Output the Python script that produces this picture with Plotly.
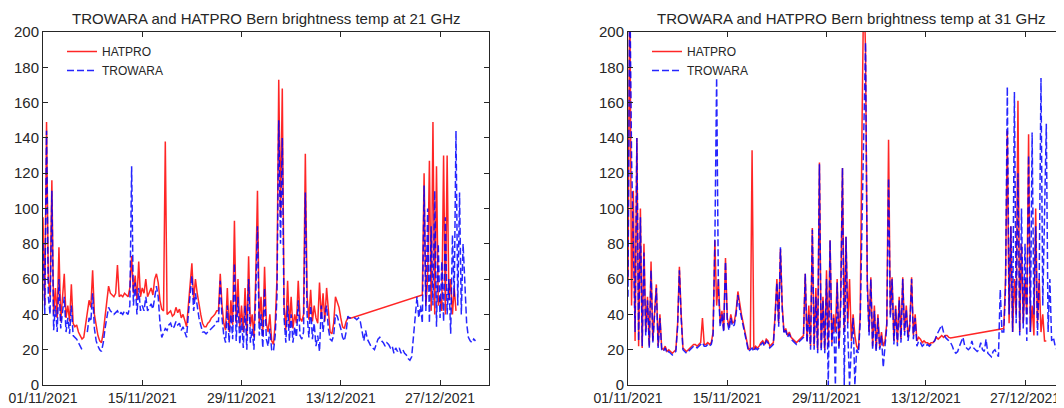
import plotly.graph_objects as go
import pandas as pd

# ---------------- data (4 samples per day, 6-hourly, from 01/11/2021 00:00) ----------------
START = "2021-11-01 00:00"
STEP = "6h"

hatpro_21 = [
    95, 45, 149, 60,   50, 116, 40, 55,   38, 78, 36, 48,   63, 38, 45, 36,
    57, 35, 33, 34,    30, 28, 26, 27,    35, 42, 48, 44,   65, 40, 33, 28,
    25, 24, 30, 40,    48, 56, 52, 51,    50, 52, 68, 50,   51, 50, 52, 51,
    50, 55, 73, 52,    62, 48, 70, 50,    55, 52, 60, 50,   53, 55, 51, 60,
    63, 58, 48, 43,    42, 138, 40, 41,   42, 39, 40, 44,   41, 43, 38, 40,
    36, 33, 45, 55,    69, 48, 60, 52,    45, 40, 35, 33,   33, 35, 36, 38,
    39, 40, 42, 42,    63, 45, 35, 31,    55, 30, 48, 34,   93, 35, 60, 32,
    45, 30, 55, 28,    73, 33, 40, 27,    60, 110, 35, 50,  28, 67, 35, 30,
    40, 25, 23, 35,    60, 173, 95, 168,  45, 31, 59, 33,   50, 32, 40, 35,
    59, 38, 36, 40,    131, 50, 37, 54,   36, 45, 38, 35,   58, 38, 52, 36,
    55, 40, 30, 29,    35, 50, 47, 44,    38, 33, 32, 36,   38, 38, 38, None,
    None, None, None, None,  None, None, None, None,  None, None, None, None,
    None, None, None, None,  None, None, None, None,  None, None, None, None,
    None, None, None, None,  None, None, None, None,  None, None, None, None,
    None, None, 51, 120,  45, 60, 127, 42,  149, 40, 124, 45,  50, 42, 130, 40,
    130, 48, 60, 40,   55, 42,
]

trowara_21 = [
    80, 40, 144, 50,   40, 110, 31, 45,   30, 60, 32, 40,   50, 30, 38, 29,
    45, 28, 27, 26,    24, 22, 20, 21,    None, 30, 38, 36, 52, 32, 25, 22,
    20, 19, 24, 32,    38, 44, 42, 41,    40, 41, 42, 40,   41, 40, 42, 41,
    40, 45, 124, 45,   58, 40, 55, 42,    45, 42, 50, 42,   44, 46, 43, 50,
    56, 50, 35, 27,    30, 32, 31, 34,    35, 32, 33, 36,   34, 35, 31, 33,
    30, 27, 40, 50,    62, 42, 52, 45,    38, 34, 30, 30,   29, 30, 31, 32,
    33, 34, 36, 36,    59, 38, 28, 24,    45, 24, 40, 26,   69, 25, 50, 23,
    38, 21, 45, 20,    60, 24, 32, 20,    50, 90, 28, 40,   21, 55, 26, 22,
    32, 20, 19, 28,    50, 150, 80, 140,  38, 24, 45, 25,   40, 24, 33, 27,
    48, 28, 26, 30,    109, 40, 27, 45,   26, 35, 22, 28,   19, 45, 30, 40,
    45, 32, 26, 25,    28, 40, 39, 36,    32, 27, 25, 30,   39, 38, 38, 38,
    38, 37, 38, 36,    30, 25, 31, 26,    24, 22, 21, 20,   23, 26, 27, 25,
    24, 22, 24, 23,    21, 22, 18, 21,    19, 21, 18, 20,   18, 17, 15, 14,
    16, 28, 42, 50,    38, 45, 35, 113,   42, 100, 35, 90,  45, 110, 33, 80,
    38, 70, 36, 95,    40, 60, 29, 85,    50, 144, 45, 109, 40, 80, 58, 35,
    27, 25, 24, 26,    25,
]

hatpro_31 = [
    60, 230, 45, 110,  25, 140, 22, 100,  21, 80, 30, 50,   22, 70, 25, 45,
    57, 22, 40, 21,    20, 22, 19, 20,    19, 18, 19, 20,   35, 67, 40, 21,
    20, 19, 20, 21,    22, 23, 23, 22,    23, 24, 38, 23,   23, 24, 23, 24,
    30, 82, 45, 60,    35, 42, 31, 72,    38, 33, 40, 35,   36, 42, 53, 45,
    40, 35, 30, 24,    20, 21, 133, 20,   22, 21, 22, 24,   25, 23, 26, 25,
    22, 23, 24, 40,    60, 35, 77, 45,    30, 32, 28, 30,   27, 26, 25, 24,
    25, 26, 27, 28,    63, 25, 45, 22,    89, 22, 55, 20,   126, 21, 50, 20,
    65, 22, 82, 24,    40, 30, 60, 22,    50, 123, 30, 84,  35, 60, 25, 40,
    28, 22, 20, 40,    143, 230, 190, 60, 30, 61, 22, 45,   20, 40, 21, 30,
    22, 25, 35, 139,   40, 61, 25, 45,    24, 50, 26, 61,   30, 45, 27, 35,
    61, 28, 40, 25,    27, 26, 24, 25,    24, 24, 23, 24,   24, 25, 27, 26,
    27, 28, 27, 28,    28, 27, 26.6, None,
    None, None, None, None,  None, None, None, None,  None, None, None, None,
    None, None, None, None,  None, None, None, None,  None, None, None, None,
    None, None, None, None,
    32, 60, 144, 35,   90, 30, 60, 40,    161, 30, 80, 35,  60, 40, 142, 30,
    45, 28, 100, 35,   60, 30, 40, 25,    25,
]

trowara_31 = [
    50, 230, 130, 70,  30, 140, 25, 95,   22, 75, 28, 48,   21, 65, 24, 40,
    55, 21, 38, 20,    19, 21, 18, 19,    18, 17, 18, 19,   33, 65, 38, 20,
    19, 18, 19, 20,    21, 22, 22, 21,    22, 23, 24, 22,   22, 23, 22, 23,
    28, 80, 174, 55,   33, 40, 30, 70,    36, 31, 38, 33,   34, 40, 51, 43,
    38, 33, 28, 22,    19, 20, 21, 19,    21, 20, 21, 23,   24, 22, 25, 24,
    21, 22, 23, 38,    58, 33, 78, 43,    29, 31, 27, 29,   26, 25, 24, 23,
    24, 25, 26, 27,    63, 24, 40, 20,    88, 20, 50, 18,   125, 19, 48, 18,
    60, 0, 82, 22,     38, 0, 58, 20,     45, 123, 0, 84,   30, 0, 22, 38,
    0, 20, 18, 35,     90, 150, 194, 55,  28, 60, 20, 42,   19, 38, 20, 28,
    10, 22, 33, 117,   38, 60, 23, 43,    22, 48, 24, 60,   28, 43, 25, 33,
    60, 26, 38, 22,    25, 24, 22, 23,    22, 23, 22, 23,   24, 25, 28, 30,
    32, 34, 30, 27,    26, 25, 24, 22,    19, 18, 19, 22,   25, 27, 22, 21,
    20, 21, 25, 21,    20, 19, 20, 24,    20, 19, 26, 18,   17, 16, 19, 20,
    18, 16, 54, 30,    30, 55, 169, 40,   90, 30, 166, 35,  120, 28, 100, 32,
    80, 25, 130, 30,   143, 40, 90, 28,   60, 174, 45, 100, 148, 30, 60, 25,
    27, 22, 20, 19,    18,
]

tick_dates = ["2021-11-01", "2021-11-15", "2021-11-29", "2021-12-13", "2021-12-27"]
tick_labels = ["01/11/2021", "15/11/2021", "29/11/2021", "13/12/2021", "27/12/2021"]
y_ticks = [0, 20, 40, 60, 80, 100, 120, 140, 160, 180, 200]

titles = ["TROWARA and HATPRO Bern brightness temp at 21 GHz",
          "TROWARA and HATPRO Bern brightness temp at 31 GHz"]
names = ["HATPRO", "TROWARA"]


def times(vals):
    return pd.date_range(START, periods=len(vals), freq=STEP)


# ---------------- figure ----------------
# the page body adds an 8 px offset, so the figure is laid out in page px minus 8
OFF = 8
W, H = 1064 - OFF, 408 - OFF
TXT = "#262626"
FONT = "Liberation Sans, Arial, Helvetica, sans-serif"
RED = "rgba(255,0,0,0.85)"
BLUE = "rgba(0,0,255,0.85)"


def fx(page_x):
    return (page_x - OFF) / W


def fy(page_y):
    return (H - (page_y - OFF)) / H


fig = go.Figure()

series = [(hatpro_21, trowara_21, "x", "y", "legend"),
          (hatpro_31, trowara_31, "x2", "y2", "legend2")]
for hat, tro, xa, ya, lg in series:
    fig.add_trace(go.Scatter(x=times(hat), y=hat, mode="lines", name=names[0],
                             line=dict(color=RED, width=1.5), connectgaps=True,
                             xaxis=xa, yaxis=ya, legend=lg))
    fig.add_trace(go.Scatter(x=times(tro), y=tro, mode="lines", name=names[1],
                             line=dict(color=BLUE, width=1.5, dash="7px,3px"),
                             connectgaps=False, xaxis=xa, yaxis=ya, legend=lg))

px_day = 7.09
left0, left1, right0 = 43, 489, 628
x_end_left = pd.Timestamp(START) + pd.Timedelta(days=(left1 - left0) / px_day)
x_end_right = pd.Timestamp(START) + pd.Timedelta(days=(1064 - right0) / px_day)

y_dom = [fy(385), fy(32)]

common_x = dict(type="date", tickvals=tick_dates, ticktext=tick_labels,
                ticks="inside", ticklen=5, tickcolor=TXT, showline=True,
                linecolor=TXT, linewidth=1, showgrid=False, zeroline=False,
                automargin=False, tickangle=0,
                tickfont=dict(family=FONT, size=14, color=TXT))
common_y = dict(range=[0, 200], tickvals=y_ticks, ticks="inside", ticklen=5,
                tickcolor=TXT, showline=True, linecolor=TXT, linewidth=1,
                showgrid=False, zeroline=False, domain=y_dom, automargin=False,
                tickfont=dict(family=FONT, size=15, color=TXT))

leg_common = dict(xanchor="left", yanchor="top", bgcolor="rgba(0,0,0,0)",
                  borderwidth=0, font=dict(family=FONT, size=12, color=TXT),
                  xref="paper", yref="paper")

fig.update_layout(
    width=W, height=H,
    margin=dict(l=0, r=0, t=0, b=0, autoexpand=False),
    paper_bgcolor="white", plot_bgcolor="white",
    font=dict(family=FONT, color=TXT),
    xaxis=dict(common_x, domain=[fx(left0), fx(left1)], range=[START, x_end_left],
               mirror="ticks", anchor="y"),
    yaxis=dict(common_y, mirror="ticks", anchor="x"),
    xaxis2=dict(common_x, domain=[fx(right0), 1.0], range=[START, x_end_right],
                mirror="ticks", anchor="y2"),
    yaxis2=dict(common_y, mirror=False, anchor="x2"),
    legend=dict(leg_common, x=fx(62), y=fy(37)),
    legend2=dict(leg_common, x=fx(647), y=fy(37)),
    showlegend=True,
)

for i, cx in enumerate([266, 851]):
    fig.add_annotation(text=titles[i], x=fx(cx), y=fy(19), xref="paper", yref="paper",
                       showarrow=False, xanchor="center", yanchor="middle",
                       font=dict(family=FONT, size=15, color=TXT))

fig.write_html("out.html")
